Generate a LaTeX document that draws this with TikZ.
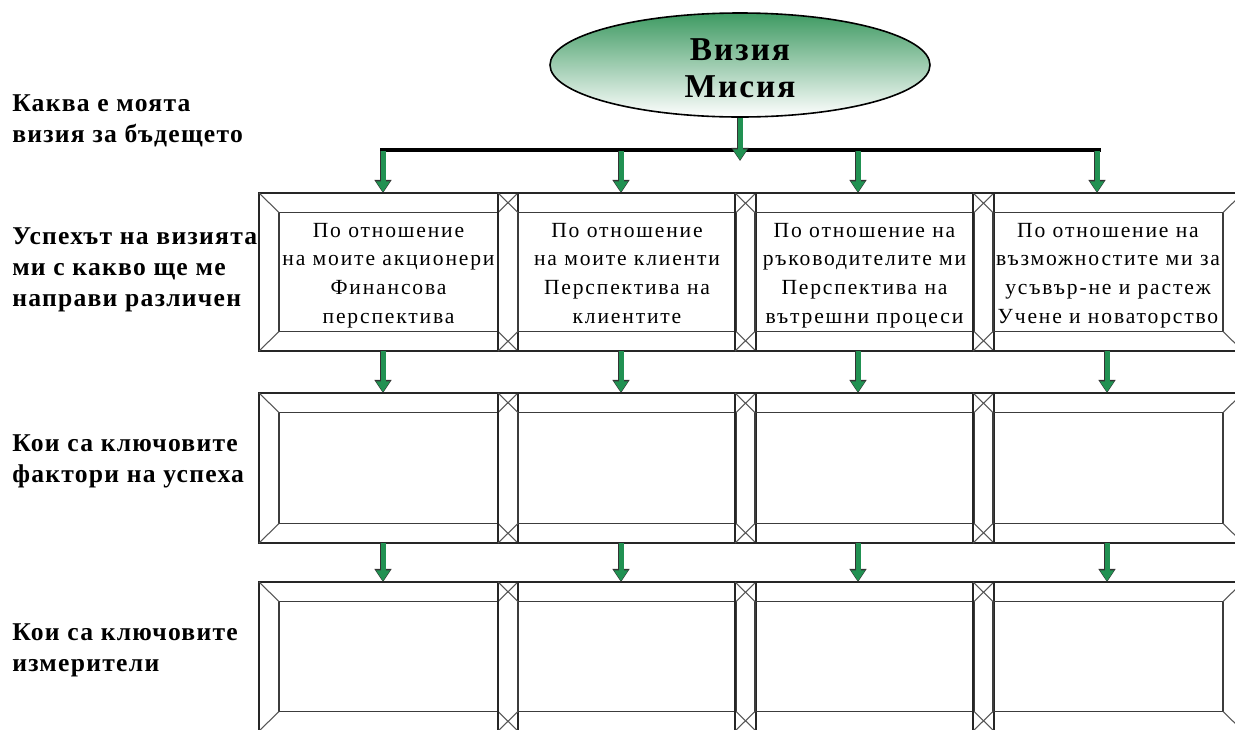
\documentclass[tikz,border=0pt]{standalone}
\usepackage{fontspec}
\setmainfont{Liberation Serif}
\newfontfamily\boxfont[LetterSpace=8.5]{Liberation Serif}
\newfontfamily\labelfont[LetterSpace=5]{Liberation Serif}
\newfontfamily\titlefont[LetterSpace=6]{Liberation Serif}
\usetikzlibrary{arrows.meta,shapes.geometric,calc}

\definecolor{arrowgreen}{HTML}{219152}
\definecolor{ellgreen}{HTML}{3E9A62}
\definecolor{framegray}{HTML}{3C3C3C}
\definecolor{bevelgray}{HTML}{555555}

\tikzset{
  outerframe/.style={draw=black!85, line width=1.1pt, inner sep=0pt, outer sep=0pt},
  innerframe/.style={draw=framegray, line width=1.4pt, inner sep=0pt, outer sep=0pt},
  bevel/.style={draw=bevelgray, line width=0.8pt},
  boxtext/.style={anchor=north, align=center, inner sep=0pt, font=\boxfont\fontsize{16.2}{21.4}\selectfont},
  sidelabel/.style={anchor=west, align=left, inner sep=0pt, font=\labelfont\bfseries\fontsize{19.2}{23.25}\selectfont},
  greenarrow/.style={line width=3.75pt, arrowgreen, -{Triangle[length=8pt,width=10pt]}, shorten >=0.7pt,
    preaction={draw=black!80, line width=5.2pt, -{Triangle[length=9.8pt,width=12.3pt]}, shorten >=0pt}},
  bar/.style={draw=black, line width=2.3pt},
}

\begin{document}
\begin{tikzpicture}[x=0.75pt, y=-0.75pt]
\useasboundingbox (0,0) rectangle (1235,729);
\clip (0,0) rectangle (1235,729);

% bevelled frames: three rows of four
\foreach \r/\ya/\yb in {1/193/351, 2/393/543, 3/582/731} {
  \foreach \c/\xa/\xb in {1/259/518, 2/498/756, 3/735/994, 4/973/1243} {
    \node[outerframe, minimum width={(\xb-\xa)*0.75pt}, minimum height={(\yb-\ya)*0.75pt}]
      (f\r\c) at ({(\xa+\xb)/2},{(\ya+\yb)/2}) {};
    \node[innerframe, minimum width={(\xb-\xa-40)*0.75pt}, minimum height={(\yb-\ya-39)*0.75pt}]
      (i\r\c) at (f\r\c.center) {};
    \foreach \k in {north west, north east, south west, south east}
      \draw[bevel] (f\r\c.\k) -- (i\r\c.\k);
  }
}

% perspective texts in the first row
\coordinate (textline) at (0,223);
\node[boxtext] (t1) at (i11.center |- textline) {По отношение\\на моите акционери\\Финансова\\перспектива};
\node[boxtext] (t2) at (i12.center |- textline) {По отношение\\на моите клиенти\\Перспектива на\\клиентите};
\node[boxtext] (t3) at (i13.center |- textline) {По отношение на\\ръководителите ми\\Перспектива на\\вътрешни процеси};
\node[boxtext] (t4) at (i14.center |- textline) {По отношение на\\възможностите ми за\\усъвър-не и растеж\\Учене и новаторство};

% vision / mission ellipse
\node[ellipse, draw=black, line width=1.2pt, top color=ellgreen, bottom color=white,
      minimum width=285pt, minimum height=78pt, inner sep=0pt] (vision) at (740,65) {};
\node[align=center, inner sep=0pt, font=\titlefont\bfseries\fontsize{25}{28}\selectfont]
  (visiontext) at (740,68) {Визия\\Мисия};

% distribution bar
\coordinate (barL) at (380,150);
\coordinate (barR) at (1101,150);
\coordinate (hub) at (740,161);
\draw[bar] (barL) -- (barR);
\draw[greenarrow] (vision.south) -- (hub);

\foreach \c/\x in {1/383, 2/621, 3/858, 4/1097} {
  \coordinate (top\c) at (\x,151);
  \draw[greenarrow] (top\c) -- (top\c |- f1\c.north);
}
\foreach \c/\x in {1/383, 2/621, 3/858, 4/1107} {
  \coordinate (m\c) at (\x,0);
  \draw[greenarrow] (m\c |- f1\c.south) -- (m\c |- f2\c.north);
  \draw[greenarrow] (m\c |- f2\c.south) -- (m\c |- f3\c.north);
}

% row questions
\node[sidelabel] (q1) at (12,121) {Каква е моята\\визия за бъдещето};
\node[sidelabel] (q2) at (12,270) {Успехът на визията\\ми с какво ще ме\\направи различен};
\node[sidelabel] (q3) at (12,461) {Кои са ключовите\\фактори на успеха};
\node[sidelabel] (q4) at (12,650) {Кои са ключовите\\измерители};
\end{tikzpicture}
\end{document}
